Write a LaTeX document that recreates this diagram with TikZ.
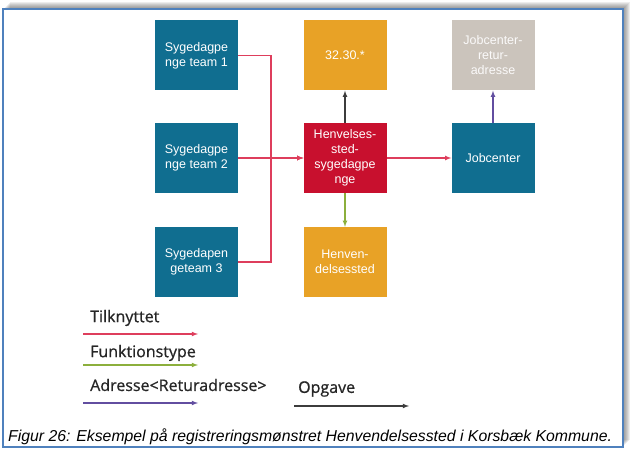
\documentclass[tikz,border=0pt]{standalone}
\usepackage{fontspec}
\setmainfont{Liberation Sans}
\newfontfamily\legfont{Open Sans}[FakeBold=0.8]
\definecolor{teal}{RGB}{16,110,144}
\definecolor{amber}{RGB}{232,162,38}
\definecolor{crim}{RGB}{200,16,46}
\definecolor{stone}{RGB}{203,196,188}
\definecolor{linkred}{RGB}{222,62,92}
\definecolor{linkgreen}{RGB}{140,175,60}
\definecolor{linkpurple}{RGB}{98,78,160}
\definecolor{linkgray}{RGB}{60,60,60}
\definecolor{frameblue}{RGB}{79,129,189}
\begin{document}
\begin{tikzpicture}[x=1pt,y=-1pt,
    box/.style={minimum width=83pt,minimum height=70pt,inner sep=2pt,align=center,
        text=white,font=\fontsize{12.5}{15}\selectfont},
    leg/.style={anchor=west,inner sep=0pt,text=black!85,font=\legfont\fontsize{16}{18}\selectfont},
    link/.style={line width=1.1pt,-latex}]
\useasboundingbox (0,0) rectangle (633,457);
% shadow and frame
\foreach \s in {7,6,...,1}
    \fill[black,opacity=0.07] (3+\s,9-\s) rectangle (623+\s,447-\s);
\draw[frameblue,line width=1.5pt,fill=white] (3,9) rectangle (623,447);
% boxes
\node[box,fill=teal] (t1) at (196.5,55.5) {Sygedagpe\\nge team 1};
\node[box,fill=teal] (t2) at (196.5,158) {Sygedagpe\\nge team 2};
\node[box,fill=teal] (t3) at (196.5,262) {Sygedapen\\geteam 3};
\node[box,fill=amber] (kle) at (345,55.5) {32.30.*};
\node[box,fill=crim] (hv) at (345,158) {Henvelses-\\sted-\\sygedagpe\\nge};
\node[box,fill=amber] (hs) at (345,262) {Henven-\\delsessted};
\node[box,fill=stone,text=white!92!stone] (jr) at (493,55.5) {Jobcenter-\\retur-\\adresse};
\node[box,fill=teal] (jc) at (493,158) {Jobcenter};
\coordinate (j) at (271,158);
% connectors
\draw[link,color=linkred] (t1.east) -| (j) -- (hv.west);
\draw[link,color=linkred] (t3.east) -| (j) -- (hv.west);
\draw[link,color=linkred] (t2.east) -- (hv.west);
\draw[link,linkgray] (hv.north) -- (kle.south);
\draw[link,linkgreen] (hv.south) -- (hs.north);
\draw[link,linkred] (hv.east) -- (jc.west);
\draw[link,linkpurple] (jc.north) -- (jr.south);
% legend
\node[leg] (l1) at (90,318) {Tilknyttet};
\node[leg] (l2) at (90,353) {Funktionstype};
\node[leg] (l3) at (90,385) {Adresse<Returadresse>};
\node[leg] (l4) at (298,389) {Opgave};
\coordinate (r1) at (83,334); \coordinate (r1e) at (198,334);
\coordinate (r2) at (83,365); \coordinate (r2e) at (198,365);
\coordinate (r3) at (83,403); \coordinate (r3e) at (198,403);
\coordinate (r4) at (294,406); \coordinate (r4e) at (409,406);
\draw[link,linkred] (r1) -- (r1e);
\draw[link,linkgreen] (r2) -- (r2e);
\draw[link,linkpurple] (r3) -- (r3e);
\draw[link,linkgray] (r4) -- (r4e);
% caption
\node[anchor=west,inner sep=0pt,font=\itshape\fontsize{15.8}{17}\selectfont] (cap) at (8,437)
    {Figur 26: Eksempel på registreringsmønstret Henvendelsessted i Korsbæk Kommune.};
\end{tikzpicture}
\end{document}
